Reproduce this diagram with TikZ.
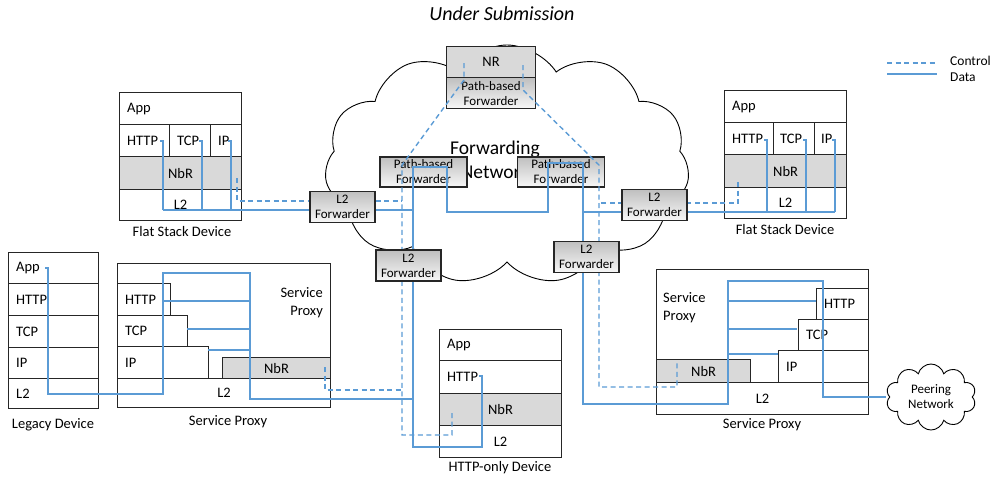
\documentclass[tikz,border=0pt]{standalone}
\usepackage{fontspec}
\setmainfont{Carlito}
\usetikzlibrary{shapes.symbols}
\definecolor{wireblue}{HTML}{5B9BD5}
\definecolor{nbr}{HTML}{D9D9D9}
\newcommand\labfont{\fontsize{14.5}{17}\selectfont}
\newcommand\fwdfont{\fontsize{13}{15}\selectfont}
\newcommand\bigfont{\fontsize{19.5}{24}\selectfont}
\newcommand\titfont{\fontsize{20}{24}\selectfont\itshape}
\newcommand\legfont{\fontsize{13.5}{16}\selectfont}
\begin{document}
\begin{tikzpicture}[x=1pt,y=-1pt,
  cell/.style={draw=black!85, line width=1.1pt, inner sep=0pt, anchor=north west, font=\labfont},
  gcell/.style={cell, fill=nbr},
  txt/.style={anchor=west, inner sep=0pt, font=\labfont},
  capt/.style={inner sep=0pt, font=\labfont},
  fwd/.style={draw=black!85, line width=1.1pt, inner sep=0pt, minimum width=65pt, minimum height=31pt, top color=black!25, bottom color=black!3, align=center, font=\fwdfont},
  pbf/.style={fwd, minimum width=87pt, minimum height=30pt},
  wire/.style={draw=wireblue, line width=1.4pt},
  ctrl/.style={draw=wireblue, line width=1.4pt, dash pattern=on 5pt off 3.5pt},
]
\useasboundingbox (0,0) rectangle (1000,482);

% title
\node[font=\titfont, inner sep=0pt] (title) at (502,14) {Under Submission};

% forwarding network cloud
\node[cloud, draw=black, line width=0.9pt, cloud puffs=11, cloud puff arc=115, cloud ignores aspect, minimum width=365pt, minimum height=240pt, inner sep=0pt] (fnet) at (507,165) {};
\node[font=\bigfont, align=center, inner sep=0pt] (fnetT) at (495,160) {Forwarding\\Network};

% ---- Flat stack device (left)
\node[cell, minimum width=122pt, minimum height=32pt] (fslApp) at (119,92) {};
\node[txt] (fslAppT) at ([xshift=8pt]fslApp.west) {App};
\node[cell, minimum width=50pt, minimum height=32pt] (fslHttp) at (119,124) {};
\node[txt] (fslHttpT) at ([xshift=8pt]fslHttp.west) {HTTP};
\node[cell, minimum width=41pt, minimum height=32pt] (fslTcp) at (169,124) {};
\node[txt] (fslTcpT) at ([xshift=8pt]fslTcp.west) {TCP};
\node[cell, minimum width=31pt, minimum height=32pt] (fslIp) at (210,124) {};
\node[txt] (fslIpT) at ([xshift=8pt]fslIp.west) {IP};
\node[gcell, minimum width=122pt, minimum height=33pt] (fslNbr) at (119,156) {NbR};
\node[cell, minimum width=122pt, minimum height=31pt] (fslL2) at (119,189) {L2};
\node[capt] (fslCap) at (182,232) {Flat Stack Device};

% ---- Flat stack device (right)
\node[cell, minimum width=122pt, minimum height=32pt] (fsrApp) at (724,90) {};
\node[txt] (fsrAppT) at ([xshift=8pt]fsrApp.west) {App};
\node[cell, minimum width=49pt, minimum height=32pt] (fsrHttp) at (724,122) {};
\node[txt] (fsrHttpT) at ([xshift=8pt]fsrHttp.west) {HTTP};
\node[cell, minimum width=41pt, minimum height=32pt] (fsrTcp) at (773,122) {};
\node[txt] (fsrTcpT) at ([xshift=7pt]fsrTcp.west) {TCP};
\node[cell, minimum width=32pt, minimum height=32pt] (fsrIp) at (814,122) {};
\node[txt] (fsrIpT) at ([xshift=7pt]fsrIp.west) {IP};
\node[gcell, minimum width=122pt, minimum height=33pt] (fsrNbr) at (724,154) {NbR};
\node[cell, minimum width=122pt, minimum height=31pt] (fsrL2) at (724,187) {L2};
\node[capt] (fsrCap) at (785,230) {Flat Stack Device};

% ---- Legacy device
\node[cell, minimum width=90pt, minimum height=31pt] (ldApp) at (8,252) {};
\node[txt] (ldAppT) at ([xshift=8pt]ldApp.west) {App};
\node[cell, minimum width=90pt, minimum height=32pt] (ldHttp) at (8,283) {};
\node[txt] (ldHttpT) at ([xshift=8pt]ldHttp.west) {HTTP};
\node[cell, minimum width=90pt, minimum height=32pt] (ldTcp) at (8,315) {};
\node[txt] (ldTcpT) at ([xshift=8pt]ldTcp.west) {TCP};
\node[cell, minimum width=90pt, minimum height=31pt] (ldIp) at (8,347) {};
\node[txt] (ldIpT) at ([xshift=8pt]ldIp.west) {IP};
\node[cell, minimum width=90pt, minimum height=30pt] (ldL2) at (8,378) {};
\node[txt] (ldL2T) at ([xshift=8pt]ldL2.west) {L2};
\node[capt] (ldCap) at (53,425) {Legacy Device};

% ---- Service proxy (left)
\node[cell, minimum width=213pt, minimum height=144pt] (spl) at (117,263) {};
\node[cell, minimum width=53pt, minimum height=32pt] (splHttp) at (117,283) {};
\node[txt] (splHttpT) at ([xshift=8pt]splHttp.west) {HTTP};
\node[cell, minimum width=70pt, minimum height=31pt] (splTcp) at (117,315) {};
\node[txt] (splTcpT) at ([xshift=8pt]splTcp.west) {TCP};
\node[cell, minimum width=91pt, minimum height=32pt] (splIp) at (117,346) {};
\node[txt] (splIpT) at ([xshift=8pt]splIp.west) {IP};
\node[gcell, minimum width=108pt, minimum height=21pt] (splNbr) at (222,357) {NbR};
\node[cell, minimum width=213pt, minimum height=29pt] (splL2) at (117,378) {L2};
\node[font=\fontsize{14.5}{18}\selectfont, align=right, anchor=east, inner sep=0pt] (splT) at (323,303) {Service\\Proxy};
\node[capt] (splCap) at (228,422) {Service Proxy};

% ---- Service proxy (right)
\node[cell, minimum width=212pt, minimum height=145pt] (spr) at (656,269) {};
\node[cell, minimum width=52pt, minimum height=31pt] (sprHttp) at (816,288) {};
\node[txt] (sprHttpT) at ([xshift=8pt]sprHttp.west) {HTTP};
\node[cell, minimum width=70pt, minimum height=31pt] (sprTcp) at (798,319) {};
\node[txt] (sprTcpT) at ([xshift=8pt]sprTcp.west) {TCP};
\node[cell, minimum width=90pt, minimum height=32pt] (sprIp) at (778,350) {};
\node[txt] (sprIpT) at ([xshift=8pt]sprIp.west) {IP};
\node[gcell, minimum width=94pt, minimum height=23pt] (sprNbr) at (656,359) {NbR};
\node[cell, minimum width=212pt, minimum height=32pt] (sprL2) at (656,382) {L2};
\node[font=\fontsize{14.5}{18}\selectfont, align=left, anchor=west, inner sep=0pt] (sprT) at (663,308) {Service\\Proxy};
\node[capt] (sprCap) at (762,425) {Service Proxy};

% ---- HTTP-only device
\node[cell, minimum width=122pt, minimum height=31pt] (hoApp) at (439,329) {};
\node[txt] (hoAppT) at ([xshift=8pt]hoApp.west) {App};
\node[cell, minimum width=122pt, minimum height=33pt] (hoHttp) at (439,360) {};
\node[txt] (hoHttpT) at ([xshift=8pt]hoHttp.west) {HTTP};
\node[gcell, minimum width=122pt, minimum height=32pt] (hoNbr) at (439,393) {NbR};
\node[cell, minimum width=122pt, minimum height=32pt] (hoL2) at (439,425) {L2};
\node[capt] (hoCap) at (500,468) {HTTP-only Device};

% ---- NR and path-based forwarders
\node[gcell, minimum width=89pt, minimum height=31pt] (nr) at (446,46) {NR};
\node[fwd, anchor=north west, minimum width=89pt, minimum height=31pt] (nrPb) at (446,77) {Path-based\\Forwarder};
\node[pbf] (pba) at (423.5,172) {Path-based\\Forwarder};
\node[pbf] (pbb) at (561,172) {Path-based\\Forwarder};

% ---- named wire end points
\coordinate (eFslH) at (160,141); \coordinate (eFslT) at (199,141); \coordinate (eFslI) at (228,141);
\coordinate (eFsrH) at (764,140); \coordinate (eFsrT) at (803,140); \coordinate (eFsrI) at (832,140);
\coordinate (eLd) at (45,268);
\coordinate (eHo) at (479,376);
\coordinate (cFsl) at (237,178); \coordinate (cFsr) at (738,182);
\coordinate (cSpl) at (325,367); \coordinate (cSpr) at (677,363);
\coordinate (cHo) at (452,413);
\coordinate (cNrL) at (464,63); \coordinate (cNrR) at (523,65);
\coordinate (ePeer) at (886,397);

% ---- data wires
\draw[wire] (eFslH) -- (163,141) -- (163,210);
\draw[wire] (eFslT) -- (202,141) -- (202,210);
\draw[wire] (eFslI) -- (231,141) -- (231,210);
\draw[wire] (163,210) -- (413,210);
\draw[wire] (eLd) -- (48,268) -- (48,394) -- (163,394) -- (163,273) -- (250,273) -- (250,399) -- (413,399);
\draw[wire] (163,301) -- (250,301);
\draw[wire] (187,329) -- (250,329);
\draw[wire] (208,350) -- (250,350);
\draw[wire] (eHo) -- (482,376) -- (482,447) -- (413,447) -- (413,167) -- (447,167) -- (447,212) -- (548,212) -- (548,163) -- (583,163) -- (583,404) -- (728,404) -- (728,281) -- (823,281) -- (823,397) -- (ePeer);
\draw[wire] (728,301) -- (816,301);
\draw[wire] (728,329) -- (797,329);
\draw[wire] (728,354) -- (778,354);
\draw[wire] (583,212) -- (835,212);
\draw[wire] (eFsrH) -- (767,140) -- (767,212);
\draw[wire] (eFsrT) -- (806,140) -- (806,212);
\draw[wire] (eFsrI) -- (835,140) -- (835,212);

% ---- control wires
\draw[ctrl] (cNrL) -- (464,80) -- (402,165) -- (402,435) -- (452,435) -- (cHo);
\draw[ctrl] (cFsl) -- (237,201) -- (402,201);
\draw[ctrl] (cSpl) -- (325,390) -- (402,390);
\draw[ctrl] (cNrR) -- (523,90) -- (599,165) -- (599,387) -- (677,387) -- (cSpr);
\draw[ctrl] (cFsr) -- (738,203) -- (599,203);

% ---- L2 forwarders
\node[fwd] (l2a) at (342.5,207) {L2\\Forwarder};
\node[fwd] (l2b) at (654.5,205) {L2\\Forwarder};
\node[fwd] (l2c) at (408.5,265.5) {L2\\Forwarder};
\node[fwd] (l2d) at (586.5,257) {L2\\Forwarder};

% ---- peering network
\node[cloud, draw=black, fill=white, line width=0.9pt, cloud puffs=10, cloud ignores aspect, minimum width=90pt, minimum height=66pt, inner sep=0pt, font=\fwdfont, align=center] (peer) at (931,397) {Peering\\Network};

% ---- legend
\coordinate (lgC1) at (887,63); \coordinate (lgC2) at (937,63);
\coordinate (lgD1) at (887,74); \coordinate (lgD2) at (937,74);
\draw[ctrl] (lgC1) -- (lgC2);
\draw[wire] (lgD1) -- (lgD2);
\node[anchor=west, inner sep=0pt, font=\legfont] (lgCT) at (950,61) {Control};
\node[anchor=west, inner sep=0pt, font=\legfont] (lgDT) at (950,77) {Data};
\end{tikzpicture}
\end{document}
